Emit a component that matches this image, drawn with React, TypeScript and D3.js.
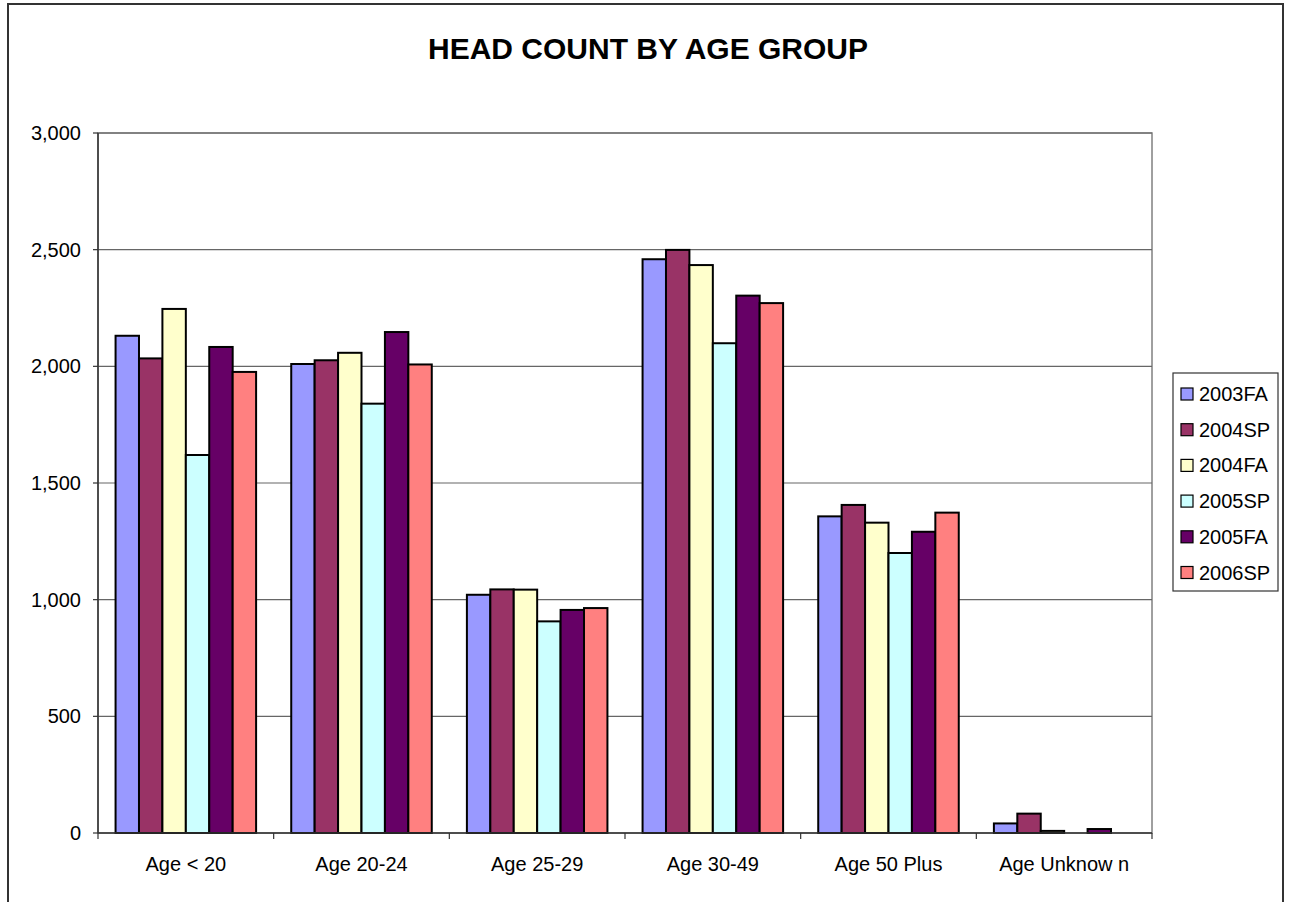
import React from "react";
import * as d3 from "d3";

const categories = ["Age < 20", "Age 20-24", "Age 25-29", "Age 30-49", "Age 50 Plus", "Age Unknow n"];
const seriesNames = ["2003FA", "2004SP", "2004FA", "2005SP", "2005FA", "2006SP"];
const seriesColors = ["#9999FF", "#993366", "#FFFFCC", "#CCFFFF", "#660066", "#FF8080"];

const s2003FA = [2131, 2010, 1021, 2459, 1357, 41];
const s2004SP = [2034, 2026, 1044, 2499, 1406, 83];
const s2004FA = [2246, 2058, 1043, 2434, 1330, 9];
const s2005SP = [1620, 1840, 907, 2099, 1200, 0];
const s2005FA = [2083, 2147, 956, 2303, 1291, 17];
const s2006SP = [1976, 2008, 964, 2271, 1373, 0];
const seriesValues = [s2003FA, s2004SP, s2004FA, s2005SP, s2005FA, s2006SP];

const yTicks = [0, 500, 1000, 1500, 2000, 2500, 3000];

const FONT = "'Liberation Sans', Arial, sans-serif";

export default function App() {
  const width = 1290,
    height = 902;
  const plot = { left: 98, right: 1152, top: 133, bottom: 833 };

  const x0 = d3
    .scaleBand()
    .domain(categories)
    .range([plot.left, plot.right])
    .paddingInner(0)
    .paddingOuter(0);

  const bw = x0.bandwidth();
  // Excel-style 150% gap width
  const groupPad = (bw * 1.5) / 7.5 / 2;
  const x1 = d3
    .scaleBand()
    .domain(seriesNames)
    .range([groupPad, bw - groupPad])
    .padding(0);

  const y = d3.scaleLinear().domain([0, 3000]).range([plot.bottom, plot.top]);
  const fmt = d3.format(",");

  return (
    <svg
      width={width}
      height={height}
      style={{ position: "absolute", left: 0, top: 0, background: "#fff" }}
    >
      {/* chart border */}
      <rect x={8} y={4} width={1275} height={910} fill="#fff" stroke="#333" strokeWidth={2} />

      <text
        x={648}
        y={59}
        textAnchor="middle"
        fontFamily={FONT}
        fontWeight="bold"
        fontSize={30}
      >
        HEAD COUNT BY AGE GROUP
      </text>

      {/* plot area frame */}
      <rect
        x={plot.left}
        y={plot.top}
        width={plot.right - plot.left}
        height={plot.bottom - plot.top}
        fill="#fff"
        stroke="#808080"
        strokeWidth={1.5}
      />

      {/* gridlines + y labels */}
      {yTicks.map((t) => (
        <g key={t}>
          {t > 0 && (
            <line x1={plot.left} x2={plot.right} y1={y(t)} y2={y(t)} stroke="#666" strokeWidth={1.2} />
          )}
          <line x1={plot.left - 5} x2={plot.left} y1={y(t)} y2={y(t)} stroke="#333" strokeWidth={1.2} />
          <text
            x={plot.left - 17}
            y={y(t)}
            dy="0.35em"
            textAnchor="end"
            fontFamily={FONT}
            fontSize={20}
          >
            {fmt(t)}
          </text>
        </g>
      ))}

      {/* bars */}
      {categories.map((c, ci) => (
        <g key={c} transform={`translate(${x0(c)},0)`}>
          {seriesNames.map((s, si) => {
            const v = seriesValues[si][ci];
            if (v <= 0) return null;
            return (
              <rect
                key={s}
                x={x1(s)}
                y={y(v)}
                width={x1.bandwidth()}
                height={y(0) - y(v)}
                fill={seriesColors[si]}
                stroke="#000"
                strokeWidth={2}
              />
            );
          })}
        </g>
      ))}

      {/* axes */}
      <line x1={plot.left} x2={plot.left} y1={plot.top} y2={plot.bottom} stroke="#333" strokeWidth={1.5} />
      <line x1={plot.left} x2={plot.right} y1={plot.bottom} y2={plot.bottom} stroke="#333" strokeWidth={1.5} />
      {categories.map((c) => (
        <line
          key={"t" + c}
          x1={x0(c)}
          x2={x0(c)}
          y1={plot.bottom}
          y2={plot.bottom + 6}
          stroke="#333"
          strokeWidth={1.2}
        />
      ))}
      <line
        x1={plot.right}
        x2={plot.right}
        y1={plot.bottom}
        y2={plot.bottom + 6}
        stroke="#333"
        strokeWidth={1.2}
      />
      {categories.map((c) => (
        <text
          key={"l" + c}
          x={(x0(c) as number) + bw / 2}
          y={871}
          textAnchor="middle"
          fontFamily={FONT}
          fontSize={20}
        >
          {c}
        </text>
      ))}

      {/* legend */}
      <rect x={1173} y={373} width={105} height={218} fill="#fff" stroke="#333" strokeWidth={1.2} />
      {seriesNames.map((s, i) => {
        const cy = 394 + i * 35.7;
        return (
          <g key={s}>
            <rect x={1181} y={cy - 6} width={12} height={12} fill={seriesColors[i]} stroke="#000" strokeWidth={1.2} />
            <text x={1199} y={cy} dy="0.35em" fontFamily={FONT} fontSize={20}>
              {s}
            </text>
          </g>
        );
      })}
    </svg>
  );
}
